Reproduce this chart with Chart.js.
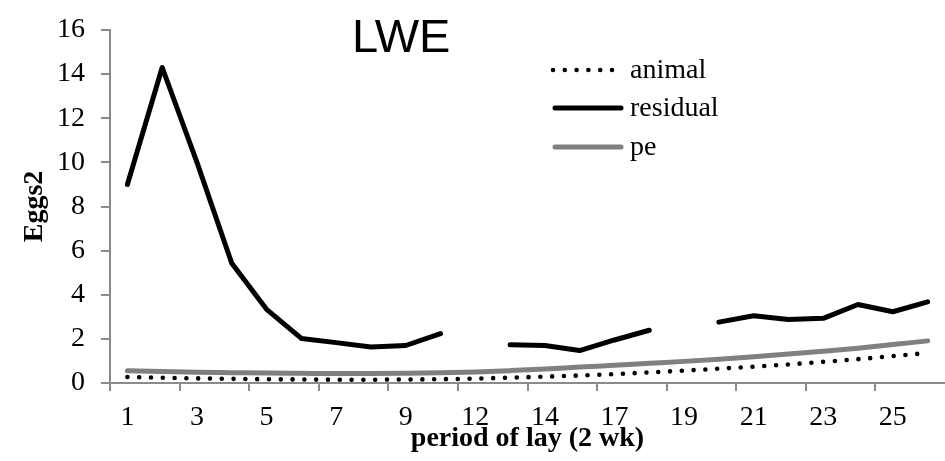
<!DOCTYPE html>
<html>
<head>
<meta charset="utf-8">
<title>LWE</title>
<script src="https://cdn.jsdelivr.net/npm/chart.js@4.4.1/dist/chart.umd.min.js"></script>
<style>
  html, body { margin: 0; padding: 0; background: #fff; overflow: hidden; }
  canvas { display: block; }
</style>
</head>
<body>
<canvas id="lweChart" width="945" height="461"></canvas>
<script>
// ── Data: variance components of eggs per period of lay (2 wk) ─────
const periods = ["1", "2", "3", "4", "5", "6", "7", "8", "9", "10", "12", "13",
                 "14", "15", "17", "18", "19", "20", "21", "22", "23", "24", "25", "26"];

const animalVar = [0.27, 0.24, 0.21, 0.19, 0.17, 0.16, 0.15, 0.15, 0.16, 0.17, 0.20, 0.24,
                   0.29, 0.34, 0.40, 0.48, 0.56, 0.65, 0.74, 0.84, 0.96, 1.08, 1.22, 1.36];

// null = no residual estimate for that period
const residualVar = [9.0, 14.3, 10.0, 5.43, 3.34, 2.02, 1.83, 1.63, 1.70, 2.24, null, 1.73,
                     1.70, 1.47, 1.95, 2.39, null, 2.76, 3.05, 2.88, 2.93, 3.56, 3.23, 3.68];

const peVar = [0.55, 0.52, 0.49, 0.47, 0.45, 0.44, 0.43, 0.43, 0.44, 0.46, 0.50, 0.56,
               0.63, 0.72, 0.80, 0.89, 0.98, 1.08, 1.19, 1.31, 1.44, 1.58, 1.74, 1.91];

const yTickValues = [0, 2, 4, 6, 8, 10, 12, 14, 16];

// ── Styling ────────────────────────────────────────────────────────
const SERIF = "'Liberation Serif', 'Times New Roman', serif";
const SANS = "'Liberation Sans', Arial, sans-serif";
const AXIS_GREY = "#8a8a8a";
const ROUND_DOTS = [0, 11.8];

// Title and legend sit inside the plot area, so they are drawn by hand
const insideLegend = {
  id: "insideLegend",
  afterDraw(chart) {
    const ctx = chart.ctx;
    ctx.save();

    ctx.fillStyle = "#000";
    ctx.font = `47px ${SANS}`;
    ctx.textAlign = "left";
    ctx.textBaseline = "alphabetic";
    ctx.fillText("LWE", 352, 52);

    const rows = [70, 108, 147];
    chart.data.datasets.forEach((ds, i) => {
      const y = rows[i];
      const dotted = i === 0;
      ctx.beginPath();
      ctx.strokeStyle = ds.borderColor;
      ctx.lineWidth = ds.borderWidth;
      ctx.lineCap = ds.borderCapStyle || "butt";
      ctx.setLineDash(ds.borderDash || []);
      ctx.moveTo(dotted ? 553 : 555, y);
      ctx.lineTo(dotted ? 614 : 621, y);
      ctx.stroke();

      ctx.setLineDash([]);
      ctx.fillStyle = "#000";
      ctx.font = `28px ${SERIF}`;
      ctx.fillText(ds.label, 630, y + 8);
    });
    ctx.restore();
  },
};

new Chart(document.getElementById("lweChart"), {
  type: "line",
  data: {
    labels: periods,
    datasets: [
      {
        label: "animal",
        data: animalVar,
        borderColor: "#000",
        borderWidth: 4.6,
        borderDash: ROUND_DOTS,
        borderCapStyle: "round",
        pointRadius: 0,
        cubicInterpolationMode: "monotone",
      },
      {
        label: "residual",
        data: residualVar,
        borderColor: "#000",
        borderWidth: 5,
        borderCapStyle: "round",
        borderJoinStyle: "round",
        pointRadius: 0,
        spanGaps: false,
      },
      {
        label: "pe",
        data: peVar,
        borderColor: "#808080",
        borderWidth: 5,
        borderCapStyle: "round",
        pointRadius: 0,
        cubicInterpolationMode: "monotone",
      },
    ],
  },
  options: {
    responsive: false,
    animation: false,
    devicePixelRatio: 1,
    layout: { padding: { top: 19, right: 0, bottom: 0, left: 0 } },
    plugins: {
      legend: { display: false },
      tooltip: { enabled: false },
    },
    scales: {
      x: {
        offset: true,
        border: { color: AXIS_GREY, width: 2 },
        grid: {
          offset: true,
          drawOnChartArea: false,
          tickLength: 8,
          lineWidth: 2,
          color: (c) => (c.index % 2 === 0 ? AXIS_GREY : "rgba(0,0,0,0)"),
        },
        ticks: {
          autoSkip: false,
          maxRotation: 0,
          padding: 13,
          color: "#000",
          font: { family: SERIF, size: 28, lineHeight: 1 },
          callback: (v, i) => (i % 2 === 0 ? periods[i] : ""),
        },
        title: {
          display: true,
          text: "period of lay (2 wk)",
          color: "#000",
          font: { family: SERIF, size: 28, weight: "bold", lineHeight: 1 },
          padding: { top: 0, bottom: 8 },
        },
        afterFit: (s) => { s.height = 78; },
      },
      y: {
        min: 0,
        max: 16,
        border: { color: AXIS_GREY, width: 2 },
        grid: {
          drawOnChartArea: false,
          tickLength: 9,
          lineWidth: 2,
          color: AXIS_GREY,
        },
        afterBuildTicks: (s) => { s.ticks = yTickValues.map((v) => ({ value: v })); },
        ticks: {
          padding: 16,
          color: "#000",
          font: { family: SERIF, size: 28, lineHeight: 1 },
        },
        title: {
          display: true,
          text: "Eggs2",
          color: "#000",
          font: { family: SERIF, size: 28, weight: "bold", lineHeight: 1 },
          padding: { top: 21, bottom: 0 },
        },
        afterFit: (s) => { s.width = 110; },
      },
    },
  },
  plugins: [insideLegend],
});
</script>
</body>
</html>
